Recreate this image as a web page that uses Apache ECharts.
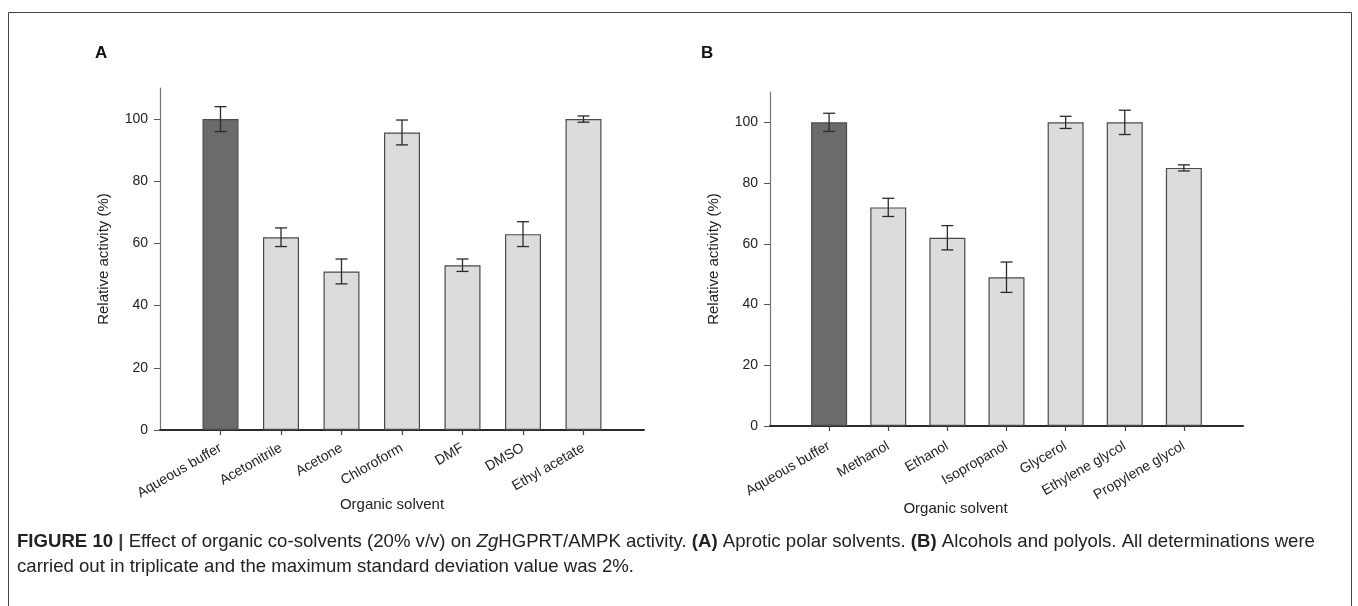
<!DOCTYPE html>
<html><head><meta charset="utf-8">
<script src="https://cdn.jsdelivr.net/npm/echarts@6/dist/echarts.min.js"></script>
<style>html,body{margin:0;padding:0;background:#fff}#c{width:1358px;height:606px}</style>
</head><body><div id="c"></div>
<script>
const catsA = ['Aqueous buffer','Acetonitrile','Acetone','Chloroform','DMF','DMSO','Ethyl acetate'];
const valsA = [100, 62, 51, 95.7, 53, 63, 100];
const errA  = [4, 3, 4, 4, 2, 4, 1];
const catsB = ['Aqueous buffer','Methanol','Ethanol','Isopropanol','Glycerol','Ethylene glycol','Propylene glycol'];
const valsB = [100, 72, 62, 49, 100, 100, 85];
const errB  = [3, 3, 4, 5, 2, 4, 1];
const yTicks = [0, 20, 40, 60, 80, 100];
const yMax = 110;

const FONT = "'Liberation Sans', Arial, Helvetica, sans-serif";
const DARK = '#6b6b6b', LIGHT = '#dcdcdb';

const chart = echarts.init(document.getElementById('c'), null, {renderer: 'canvas'});

function pad(a){ return [''].concat(a, ['']); }

function barData(vals){
  return ['-'].concat(vals.map((v,i)=>({value:v, itemStyle:{color: i===0?DARK:LIGHT}})), ['-']);
}
function errData(vals, errs){
  return vals.map((v,i)=>[i+1, v-errs[i], v+errs[i]]);
}
function renderErr(params, api){
  const x = api.value(0), lo = api.value(1), hi = api.value(2);
  const p1 = api.coord([x, hi]), p2 = api.coord([x, lo]);
  const w = 6;
  const st = {stroke:'#2a2a2a', lineWidth:1.3};
  return {type:'group', children:[
    {type:'line', shape:{x1:p1[0], y1:p1[1], x2:p2[0], y2:p2[1]}, style:st},
    {type:'line', shape:{x1:p1[0]-w, y1:p1[1], x2:p1[0]+w, y2:p1[1]}, style:st},
    {type:'line', shape:{x1:p2[0]-w, y1:p2[1], x2:p2[0]+w, y2:p2[1]}, style:st}
  ]};
}

function xAxisCfg(idx, cats, nameShift, nameGap, labelMargin){
  return {
    type:'category', gridIndex:idx, data:pad(cats), boundaryGap:false,
    axisLine:{lineStyle:{color:'#2a2a2a', width:2}},
    axisTick:{interval:(i,v)=>v!=='', length:5, lineStyle:{color:'#444', width:1.2}},
    axisLabel:{interval:0, rotate:30, fontSize:14, color:'#222', fontFamily:FONT, margin:labelMargin},
    splitLine:{show:false},
    name:'Organic solvent', nameLocation:'middle', nameGap:nameGap, nameMoveOverlap:false,
    nameTextStyle:{fontSize:15, color:'#222', fontFamily:FONT, padding:[0, nameShift, 0, 0]}
  };
}
function yAxisCfg(idx){
  return {
    type:'value', gridIndex:idx, min:0, max:yMax, interval:20,
    axisLine:{show:true, lineStyle:{color:'#777', width:1.2}},
    axisTick:{show:true, customValues:yTicks, length:6, lineStyle:{color:'#555', width:1}},
    axisLabel:{customValues:yTicks, fontSize:14, color:'#222', fontFamily:FONT, margin:12},
    splitLine:{show:false},
    name:'Relative activity (%)', nameLocation:'middle', nameGap:49, nameMoveOverlap:false,
    nameTextStyle:{fontSize:15, color:'#222', fontFamily:FONT}
  };
}

const option = {
  backgroundColor:'#fff',
  animation:false,
  grid:[
    {left:160, top:88, width:484, height:342},
    {left:770, top:92, width:473, height:334}
  ],
  xAxis:[xAxisCfg(0, catsA, 20, 67, 17), xAxisCfg(1, catsB, 102, 75, 19)],
  yAxis:[yAxisCfg(0), yAxisCfg(1)],
  series:[
    {type:'bar', xAxisIndex:0, yAxisIndex:0, data:barData(valsA), barWidth:36,
     itemStyle:{borderColor:'#4a4a4a', borderWidth:1.2}},
    {type:'custom', xAxisIndex:0, yAxisIndex:0, data:errData(valsA, errA), renderItem:renderErr, z:5,
     encode:{x:0, y:[1,2]}},
    {type:'bar', xAxisIndex:1, yAxisIndex:1, data:barData(valsB), barWidth:36,
     itemStyle:{borderColor:'#4a4a4a', borderWidth:1.2}},
    {type:'custom', xAxisIndex:1, yAxisIndex:1, data:errData(valsB, errB), renderItem:renderErr, z:5,
     encode:{x:0, y:[1,2]}}
  ],
  graphic:[
    {type:'rect', shape:{x:8.5, y:12.5, width:1343, height:640}, style:{fill:'none', stroke:'#444', lineWidth:1}, silent:true},
    {type:'text', left:95, top:45, style:{text:'A', fontSize:17, fontWeight:'bold', fill:'#111', fontFamily:FONT}},
    {type:'text', left:701, top:45, style:{text:'B', fontSize:17, fontWeight:'bold', fill:'#111', fontFamily:FONT}},
    {type:'text', left:17, top:532, style:{
      text:'{b|FIGURE 10} {s||} Effect of organic co-solvents (20% v/v) on {i|Zg}HGPRT/AMPK activity. {b|(A)} Aprotic polar solvents. {b|(B)} Alcohols and polyols. All determinations were',
      fontSize:18.6, fill:'#222', fontFamily:FONT,
      rich:{
        b:{fontWeight:'bold', fontSize:18.6, fill:'#222', fontFamily:FONT},
        i:{fontStyle:'italic', fontSize:18.6, fill:'#222', fontFamily:FONT},
        s:{fontWeight:'bold', fontSize:18.6, fill:'#444', fontFamily:FONT}
      }}},
    {type:'text', left:17, top:557, style:{
      text:'carried out in triplicate and the maximum standard deviation value was 2%.',
      fontSize:18.6, fill:'#222', fontFamily:FONT}}
  ]
};
chart.setOption(option);
</script>
</body></html>
